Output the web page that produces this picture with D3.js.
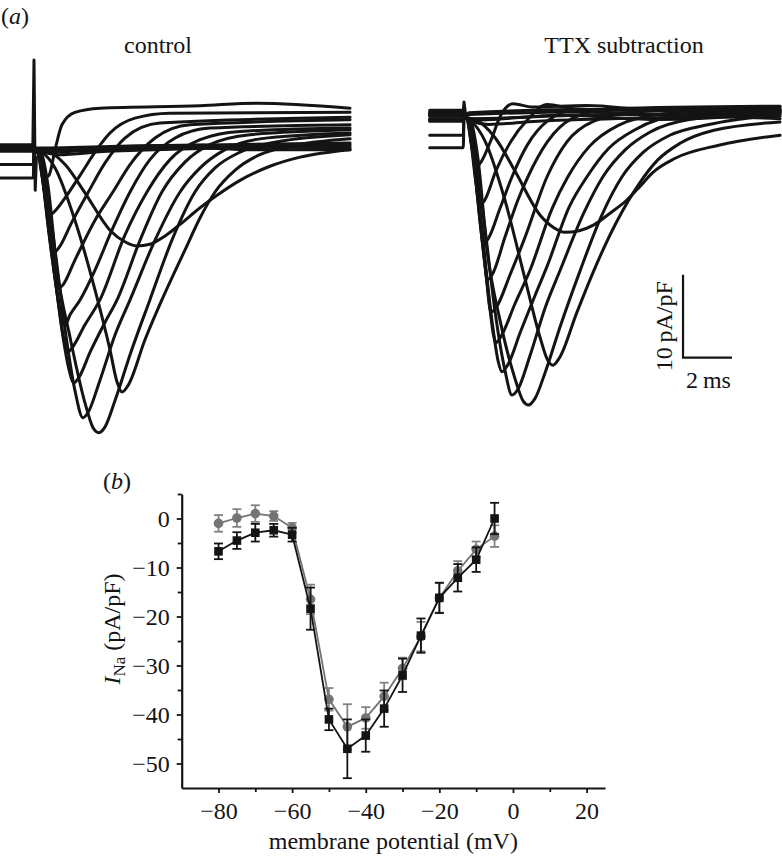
<!DOCTYPE html>
<html><head><meta charset="utf-8">
<script src="https://cdn.jsdelivr.net/npm/d3@7"></script>
<style>
body{margin:0;background:#fff}
svg{display:block;font-family:"Liberation Serif","Times New Roman",serif}
</style></head><body>
<svg id="c" width="782" height="857"></svg>
<script>
// ---------------- Panel (b) data: I-V relationship ----------------
const voltages = [-80,-75,-70,-65,-60,-55,-50,-45,-40,-35,-30,-25,-20,-15,-10,-5];
const blackMean = [-6.7,-4.5,-2.9,-2.4,-3.3,-18.4,-41.0,-47.0,-44.3,-38.8,-32.0,-23.9,-16.2,-12.1,-8.4,0.0];
const blackErr  = [1.6,1.7,1.8,1.3,1.4,4.3,2.2,6.0,3.3,3.7,3.4,3.5,3.1,2.8,2.5,3.2];
const grayMean  = [-1.0,0.1,1.0,0.5,-1.9,-16.5,-36.9,-42.5,-40.7,-36.3,-30.6,-24.1,-16.2,-10.7,-6.3,-3.6];
const grayErr   = [1.7,1.8,1.7,1.0,1.0,3.0,2.3,4.6,2.2,2.8,2.2,3.0,3.0,2.0,1.6,2.2];
const xMajorTicks = [-80,-60,-40,-20,0,20];
const xMinorTicks = [-70,-50,-30,-10,10];
const yMajorTicks = [0,-10,-20,-30,-40,-50];
const yMinorTicks = [5,-5,-15,-25,-35,-45];

// ---------------- Panel (a) data: current traces (t in ms, I in pA/pF) ----------------
const traceVoltages = [-80,-75,-70,-65,-60,-55,-50,-45,-40,-35,-30,-25,-20,-15,-10,-5];
const ctrlPre = [-3.6,-2.0,0.2,-0.2,0.3,0.1,-0.2,0.3,-0.3,0.2,0,0.4,-0.4,0.1,-0.1,0.3];
const ctrlTraces = [
 [[0,0],[0.1,-0.5],[3,-0.2],[6,0.1],[9,-0.2],[12.9,-0.2]],
 [[0,0],[0.1,-0.3],[4,0.2],[8,0.4],[12.9,0.6]],
 [[0,0],[0.1,0],[5,0.3],[12.9,0.4]],
 [[0,0],[0.1,-0.2],[6,0.2],[12.9,0.0]],
 [[0,0],[0.3,-0.4],[1,-0.8],[3,-0.4],[12.9,0.2]],
 [[0,0],[0.45,-0.2],[1.27,-2.0],[2.08,-5.4],[3.1,-9.9],[3.71,-11.3],[4.2,-11.8],[4.73,-11.6],[5.35,-10.6],[5.96,-9.2],[6.78,-7.2],[7.47,-5.7],[8.41,-3.9],[9.63,-2.2],[10.86,-1.1],[12.9,-0.2]],
 [[0,0],[0.33,-0.5],[0.86,-2.4],[1.67,-8.7],[2.49,-17.1],[3.1,-24.3],[3.39,-28.2],[3.59,-29.4],[3.84,-28.6],[4.53,-23.1],[5.22,-18.3],[6.16,-12.3],[6.78,-8.4],[7.39,-5.3],[8.2,-2.7],[9.22,-0.8],[10.45,0.2],[12.9,1.1]],
 [[0,0],[0.24,-0.2],[0.57,-4.5],[0.94,-14.7],[1.47,-22.8],[2.08,-30.7],[2.41,-33.7],[2.65,-34.3],[2.9,-33.6],[3.31,-30.4],[3.92,-24.9],[4.73,-18.3],[5.63,-11.1],[6.57,-5.3],[7.39,-2.4],[8.41,-0.5],[9.84,0.7],[12.9,1.6]],
 [[0,0],[0.2,-0.2],[0.45,-3.6],[0.86,-12.3],[1.27,-21.9],[1.67,-29.2],[2.0,-32.5],[2.2,-31.9],[2.69,-28.0],[3.31,-22.5],[3.92,-18.3],[4.94,-11.1],[5.96,-5.3],[6.78,-2.4],[7.8,-0.2],[9.22,1.1],[12.9,1.8]],
 [[0,0],[0.2,-0.2],[0.41,-3.9],[0.73,-12.3],[1.14,-21.9],[1.43,-26.7],[1.63,-28.3],[1.84,-27.6],[2.29,-24.6],[2.9,-21.0],[3.39,-18.3],[4.33,-11.1],[5.22,-5.3],[6.16,-1.7],[7.18,0.4],[8.82,1.6],[12.9,2.2]],
 [[0,0],[0.16,-0.2],[0.37,-3.9],[0.65,-11.1],[0.98,-18.3],[1.22,-23.1],[1.39,-24.6],[1.55,-24.1],[2.08,-21.3],[2.69,-18.3],[3.71,-10.5],[4.61,-5.3],[5.55,-1.4],[6.78,1.0],[8.41,2.0],[12.9,2.4]],
 [[0,0],[0.16,-0.2],[0.33,-3.3],[0.57,-9.3],[0.9,-16.5],[1.14,-20.5],[1.27,-21.3],[1.47,-20.1],[1.88,-18.3],[2.49,-14.7],[3.18,-9.9],[3.92,-5.3],[4.73,-1.4],[5.76,1.2],[7.18,2.4],[12.9,2.8]],
 [[0,0],[0.16,-0.2],[0.33,-3.3],[0.57,-8.7],[0.82,-14.1],[1.02,-16.9],[1.18,-16.5],[1.67,-13.5],[2.49,-8.7],[3.22,-5.3],[3.92,-2.0],[4.94,1.2],[6.37,2.8],[12.9,3.4]],
 [[0,0],[0.16,-0.2],[0.33,-2.9],[0.53,-7.5],[0.73,-11.1],[0.86,-12.5],[1.02,-12.0],[1.55,-8.9],[2.2,-5.4],[2.9,-1.8],[3.71,1.2],[5.14,3.0],[12.9,3.7]],
 [[0,0],[0.12,-0.2],[0.29,-2.7],[0.49,-6.3],[0.65,-8.1],[0.82,-7.7],[1.27,-6.0],[1.88,-3.3],[2.49,-0.5],[3.1,1.8],[4.12,3.6],[5.55,4.2],[12.9,4.3]],
 [[0,0],[0.12,-0.2],[0.29,-2.0],[0.45,-3.6],[0.61,-3.3],[0.86,-0.2],[1.14,2.8],[1.67,4.3],[2.69,4.8],[6.78,5.1],[9.1,5.4],[12.9,4.8]]
];
const ctrlArtifact = [[-0.05,-0.5],[0,10.6],[0.05,-5.1],[0.1,-1.0]];

const ttxPre = [-3.7,-2.2,-0.3,0.8,0.4,0.3,-0.3,0.5,-0.5,0.2,-0.2,0.6,-0.4,0.1,0.4,0.2];
const ttxTraces = [
 [[0,0],[0.2,-0.4],[4,0.2],[8,-0.3],[12.9,0.4]],
 [[0,0],[0.2,0.3],[5,0.6],[9,0.2],[12.9,0.7]],
 [[0,0],[0.2,-0.2],[6,0.3],[12.9,-0.2]],
 [[0,0],[0.2,0.5],[5,0.9],[12.9,0.6]],
 [[0,0],[0.3,-0.5],[1,-0.9],[3,-0.5],[12.9,0.1]],
 [[0,0],[0.45,-0.3],[1.27,-2.5],[2.08,-6.5],[3.1,-11.8],[3.7,-13.4],[4.1,-13.9],[4.7,-13.7],[5.3,-13.0],[6.0,-11.5],[6.65,-10.0],[7.2,-8.3],[7.7,-6.7],[8.6,-5.0],[10.4,-3.4],[12.9,-2.2]],
 [[0,0],[0.33,-0.6],[0.86,-2.9],[1.67,-10.0],[2.49,-19.5],[3.1,-26.5],[3.4,-29.2],[3.63,-29.9],[3.9,-29.0],[4.6,-23.6],[5.3,-18.5],[6.2,-12.8],[7.18,-7.9],[7.9,-5.2],[8.8,-3.2],[10.2,-1.6],[12.9,-0.6]],
 [[0,0],[0.24,-0.2],[0.57,-5.0],[0.94,-16.0],[1.47,-24.5],[2.08,-31.5],[2.41,-34.2],[2.63,-34.7],[2.9,-33.9],[3.31,-30.8],[3.92,-25.3],[4.73,-18.6],[5.6,-12.0],[6.45,-7.2],[7.3,-4.3],[8.4,-2.2],[10,-0.9],[12.9,0.3]],
 [[0,0],[0.2,-0.2],[0.45,-4.0],[0.86,-13.5],[1.27,-23.5],[1.67,-30.5],[1.96,-33.5],[2.2,-32.8],[2.69,-28.8],[3.31,-23.0],[3.92,-18.5],[4.9,-11.5],[5.67,-7.2],[6.6,-3.9],[7.6,-1.8],[9.2,-0.3],[12.9,0.6]],
 [[0,0],[0.2,-0.2],[0.41,-4.2],[0.73,-13.5],[1.14,-24.5],[1.4,-29.5],[1.55,-30.7],[1.8,-29.8],[2.29,-26.0],[2.9,-21.5],[3.39,-18.0],[4.3,-10.8],[5.02,-7.2],[5.9,-3.8],[7.0,-1.5],[8.8,0.2],[12.9,0.8]],
 [[0,0],[0.16,-0.2],[0.37,-4.2],[0.65,-12.5],[0.98,-21.0],[1.2,-26.2],[1.3,-27.2],[1.5,-26.5],[2.08,-22.5],[2.69,-18.5],[3.6,-11.0],[4.24,-7.2],[5.1,-3.6],[6.3,-1.0],[8.2,0.4],[12.9,1.0]],
 [[0,0],[0.16,-0.2],[0.33,-3.6],[0.57,-10.2],[0.9,-19.0],[1.1,-23.5],[1.3,-23.0],[1.88,-19.0],[2.49,-14.5],[3.39,-7.2],[4.2,-3.0],[5.3,-0.5],[7.0,0.6],[12.9,1.2]],
 [[0,0],[0.16,-0.2],[0.33,-3.6],[0.57,-9.5],[0.82,-16.5],[0.95,-19.6],[1.15,-19.0],[1.67,-14.5],[2.2,-10.0],[2.61,-7.2],[3.4,-3.0],[4.4,-0.2],[6.0,1.0],[12.9,1.3]],
 [[0,0],[0.16,-0.2],[0.33,-3.3],[0.53,-8.5],[0.73,-13.5],[0.82,-15.2],[1.0,-14.6],[1.47,-11.0],[1.96,-7.2],[2.6,-3.3],[3.4,-0.5],[4.6,0.9],[12.9,0.8]],
 [[0,0],[0.12,-0.2],[0.29,-3.2],[0.49,-8.0],[0.65,-10.6],[0.85,-10.0],[1.3,-6.5],[1.9,-3.0],[2.6,-0.3],[3.4,1.5],[4.5,1.0],[12.9,0.5]],
 [[0,0],[0.12,-0.2],[0.29,-3.0],[0.5,-6.0],[0.7,-5.4],[1.1,-2.8],[1.5,0.2],[2.0,1.6],[2.8,1.2],[5,1.4],[8,0.8],[12.9,0.9]]
];
const ttxArtifact = [[-0.05,0],[0,1.8],[0.06,0.4],[0.1,0]];
const preStart = -1.4;

// scale bar: 2 ms, 10 pA/pF, anchored in TTX panel units
const scaleBarOrigin = [8.94, -29.0];
const scaleBarMs = 2, scaleBarPA = 10;

// ---------------- drawing ----------------
const svg = d3.select("#c");
const INK = "#141414";

function drawTraces(xs, ys, pre, traces, artifact){
  const g = svg.append("g");
  const line = d3.line().x(d=>xs(d[0])).y(d=>ys(d[1])).curve(d3.curveMonotoneX);
  traces.forEach((tr,i)=>{
    const pts = [[preStart, pre[i]],[-0.03, pre[i]]].concat(tr);
    g.append("path").attr("d", line(pts))
      .attr("fill","none").attr("stroke",INK).attr("stroke-width",3)
      .attr("stroke-linejoin","round").attr("stroke-linecap","round");
  });
  const aline = d3.line().x(d=>xs(d[0])).y(d=>ys(d[1]));
  g.append("path").attr("d", aline(artifact))
    .attr("fill","none").attr("stroke",INK).attr("stroke-width",3).attr("stroke-linejoin","round");
  return g;
}

const xCtrl = d3.scaleLinear().domain([0,2]).range([34,83]);
const yCtrl = d3.scaleLinear().domain([0,-10]).range([148,231]);
const xTTX = d3.scaleLinear().domain([0,2]).range([464,513]);
const yTTX = d3.scaleLinear().domain([0,-10]).range([117,200]);

drawTraces(xCtrl, yCtrl, ctrlPre, ctrlTraces, ctrlArtifact);
drawTraces(xTTX, yTTX, ttxPre, ttxTraces, ttxArtifact);

// scale bar
const sb = svg.append("g");
const sx0 = xTTX(scaleBarOrigin[0]), sy0 = yTTX(scaleBarOrigin[1]);
sb.append("path")
  .attr("d", `M${sx0},${yTTX(scaleBarOrigin[1]+scaleBarPA)}L${sx0},${sy0}L${xTTX(scaleBarOrigin[0]+scaleBarMs)},${sy0}`)
  .attr("fill","none").attr("stroke",INK).attr("stroke-width",2.2);
sb.append("text").attr("transform",`translate(${sx0-11},${(sy0+yTTX(scaleBarOrigin[1]+scaleBarPA))/2+10}) rotate(-90)`)
  .attr("text-anchor","middle").attr("font-size",24).attr("fill",INK).text("10\u2009pA/pF");
sb.append("text").attr("x",(sx0+xTTX(scaleBarOrigin[0]+scaleBarMs))/2+1).attr("y",sy0+30)
  .attr("text-anchor","middle").attr("font-size",24).attr("fill",INK).text("2\u2009ms");

// panel (a) labels
const la = svg.append("text").attr("x",1).attr("y",24).attr("font-size",24).attr("fill",INK);
la.append("tspan").text("(");
la.append("tspan").attr("font-style","italic").text("a");
la.append("tspan").text(")");
svg.append("text").attr("x",158).attr("y",53).attr("text-anchor","middle").attr("font-size",24).attr("fill",INK).text("control");
svg.append("text").attr("x",624).attr("y",53).attr("text-anchor","middle").attr("font-size",24).attr("fill",INK).text("TTX subtraction");

// ---------------- panel (b) ----------------
const xb = d3.scaleLinear().domain([-90,25]).range([181.7,605]);
const yb = d3.scaleLinear().domain([-55,5]).range([788,494]);
const gb = svg.append("g");
const fmt = d3.format("d");

const xAxis = gb.append("g").attr("transform",`translate(0,${yb(-55)})`)
  .call(d3.axisBottom(xb).tickValues(xMajorTicks).tickFormat(fmt).tickSize(5).tickSizeOuter(0).tickPadding(9));
const xAxisMinor = gb.append("g").attr("transform",`translate(0,${yb(-55)})`)
  .call(d3.axisBottom(xb).tickValues(xMinorTicks).tickFormat("").tickSize(4).tickSizeOuter(0));
const yAxis = gb.append("g").attr("transform",`translate(${xb(-90)},0)`)
  .call(d3.axisLeft(yb).tickValues(yMajorTicks).tickFormat(fmt).tickSize(5).tickSizeOuter(0).tickPadding(7));
const yAxisMinor = gb.append("g").attr("transform",`translate(${xb(-90)},0)`)
  .call(d3.axisLeft(yb).tickValues(yMinorTicks).tickFormat("").tickSize(4).tickSizeOuter(0));
[xAxis,xAxisMinor,yAxis,yAxisMinor].forEach(a=>{
  a.selectAll("path.domain").attr("stroke",INK).attr("stroke-width",2.2);
  a.selectAll(".tick line").attr("stroke",INK).attr("stroke-width",1.8);
  a.selectAll("text").attr("font-family","Liberation Serif, Times New Roman, serif").attr("font-size",24).attr("fill",INK);
});
xAxisMinor.select("path.domain").remove();
yAxisMinor.select("path.domain").remove();

// axis titles
svg.append("text").attr("x",(xb(-90)+xb(25))/2).attr("y",849).attr("text-anchor","middle")
  .attr("font-size",24).attr("fill",INK).text("membrane potential (mV)");
const yl = svg.append("text").attr("transform","translate(120,629) rotate(-90)")
  .attr("text-anchor","middle").attr("font-size",24).attr("fill",INK);
yl.append("tspan").attr("font-style","italic").text("I");
yl.append("tspan").attr("font-size",17).attr("dy",5).text("Na");
yl.append("tspan").attr("dy",-5).text(" (pA/pF)");

const lb = svg.append("text").attr("x",103).attr("y",489).attr("font-size",24).attr("fill",INK);
lb.append("tspan").text("(");
lb.append("tspan").attr("font-style","italic").text("b");
lb.append("tspan").text(")");

// series
function series(mean, err, color, errColor, shape){
  const data = voltages.map((v,i)=>({v, m:mean[i], e:err[i]}));
  const g = gb.append("g");
  g.append("path").datum(data)
    .attr("d", d3.line().x(d=>xb(d.v)).y(d=>yb(d.m)))
    .attr("fill","none").attr("stroke",color).attr("stroke-width",1.8);
  const eb = g.selectAll("g.eb").data(data).join("g");
  eb.append("line").attr("x1",d=>xb(d.v)).attr("x2",d=>xb(d.v))
    .attr("y1",d=>yb(d.m+d.e)).attr("y2",d=>yb(d.m-d.e))
    .attr("stroke",errColor).attr("stroke-width",1.8);
  [1,-1].forEach(s=>{
    eb.append("line").attr("x1",d=>xb(d.v)-4.5).attr("x2",d=>xb(d.v)+4.5)
      .attr("y1",d=>yb(d.m+s*d.e)).attr("y2",d=>yb(d.m+s*d.e))
      .attr("stroke",errColor).attr("stroke-width",1.8);
  });
  if(shape==="circle"){
    g.selectAll("circle").data(data).join("circle")
      .attr("cx",d=>xb(d.v)).attr("cy",d=>yb(d.m)).attr("r",4.8).attr("fill",color);
  } else {
    g.selectAll("rect").data(data).join("rect")
      .attr("x",d=>xb(d.v)-4.3).attr("y",d=>yb(d.m)-4.3).attr("width",8.6).attr("height",8.6).attr("fill",color);
  }
}
series(grayMean, grayErr, "#747474", "#828282", "circle");
series(blackMean, blackErr, INK, INK, "square");
</script></body></html>
